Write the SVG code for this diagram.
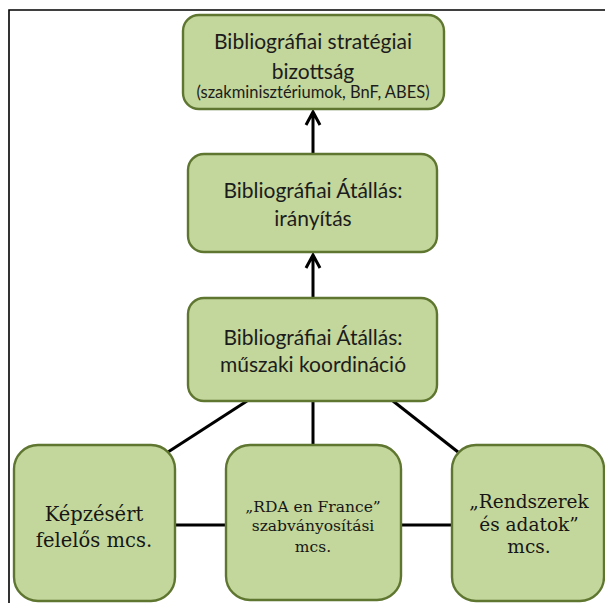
<svg xmlns="http://www.w3.org/2000/svg" width="605" height="603" viewBox="0 0 605 603">
<style>
.box{fill:#C3D69B;stroke:#5E7630;stroke-width:2.4}
.sans{font-family:Lato,sans-serif;fill:#1c1c1c;text-anchor:middle}
.ln{stroke:#000;stroke-width:3;fill:none}
</style>
<rect width="605" height="603" fill="#fff"/>
<path d="M9 603 V10 H605" fill="none" stroke="#000" stroke-width="1.6"/>
<g id="connectors">
<path class="ln" d="M313 153 V112 M306 125 L313 112 L320 125"/>
<path class="ln" d="M313 298 V255 M306 268 L313 255 L320 268"/>
<path class="ln" d="M247 401 L168 452"/>
<path class="ln" d="M313 401 V445"/>
<path class="ln" d="M393 401 L458 452"/>
<path class="ln" d="M175 525 H226"/>
<path class="ln" d="M401 525 H452"/>
</g>
<g id="n1">
<rect class="box" x="183" y="15" width="261" height="94" rx="16"/>
<text class="sans" x="313" y="49" font-size="21">Bibliográfiai stratégiai</text>
<text class="sans" x="313" y="79" font-size="21">bizottság</text>
<text class="sans" x="313" y="98" font-size="16.5">(szakminisztériumok, BnF, ABES)</text>
</g>
<g id="n2">
<rect class="box" x="188" y="154" width="249" height="98" rx="16"/>
<text class="sans" x="313" y="198" font-size="21">Bibliográfiai Átállás:</text>
<text class="sans" x="313" y="226" font-size="21">irányítás</text>
</g>
<g id="n3">
<rect class="box" x="188" y="298" width="249" height="103" rx="16"/>
<text class="sans" x="313" y="345" font-size="21">Bibliográfiai Átállás:</text>
<text class="sans" x="313" y="372" font-size="21">műszaki koordináció</text>
</g>
<g id="n4">
<rect class="box" x="14" y="445" width="161" height="156" rx="24"/>
<text font-family="DejaVu Serif" text-anchor="middle" fill="#161616" x="94" y="521" font-size="19.5">Képzésért</text>
<text font-family="DejaVu Serif" text-anchor="middle" fill="#161616" x="94" y="547" font-size="19.5">felelős mcs.</text>
</g>
<g id="n5">
<rect class="box" x="226" y="445" width="175" height="155" rx="24"/>
<text font-family="DejaVu Serif" text-anchor="middle" fill="#161616" x="313" y="512" font-size="15.5">„RDA en France”</text>
<text font-family="DejaVu Serif" text-anchor="middle" fill="#161616" x="313" y="531" font-size="15.5">szabványosítási</text>
<text font-family="DejaVu Serif" text-anchor="middle" fill="#161616" x="313" y="552" font-size="15.5">mcs.</text>
</g>
<g id="n6">
<rect class="box" x="452" y="445" width="152" height="156" rx="24"/>
<text font-family="DejaVu Serif" text-anchor="middle" fill="#161616" x="529" y="508" font-size="18.5">„Rendszerek</text>
<text font-family="DejaVu Serif" text-anchor="middle" fill="#161616" x="529" y="531" font-size="18.5">és adatok”</text>
<text font-family="DejaVu Serif" text-anchor="middle" fill="#161616" x="529" y="553" font-size="18.5">mcs.</text>
</g>
</svg>
